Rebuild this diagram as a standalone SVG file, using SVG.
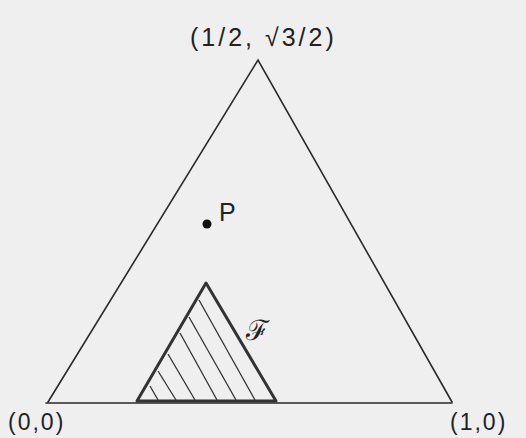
<svg xmlns="http://www.w3.org/2000/svg" width="526" height="438" viewBox="0 0 526 438">
<style>
.bg{fill:#efefef}
.ln{fill:none;stroke:#2a2a2a;stroke-width:1.6;stroke-linecap:round}
.thick{fill:none;stroke:#333;stroke-width:3;stroke-linejoin:round}
.hatch{stroke:#333;stroke-width:1.3}
.lbl{font-family:"Liberation Sans",Arial,sans-serif;font-size:23px;fill:#222}
</style>
<rect class="bg" x="0" y="0" width="526" height="438"/>
<g id="big-triangle">
<polyline class="ln" points="48,402 258,60 452,402"/>
</g>
<g id="connectors">
<line class="ln" x1="46" y1="403" x2="452" y2="403"/>
</g>
<g id="small-triangle-F">
<polygon class="thick" points="137,401 206,283 276,401"/>
<g class="hatch">
<line x1="199" y1="300" x2="255" y2="400"/>
<line x1="189" y1="317" x2="236" y2="400"/>
<line x1="180" y1="333" x2="217" y2="400"/>
<line x1="168" y1="354" x2="195" y2="400"/>
<line x1="158" y1="371" x2="176" y2="400"/>
<line x1="150" y1="386" x2="158" y2="400"/>
</g>
<text x="246" y="340" style="font-family:'DejaVu Serif',serif;font-size:28px;fill:#222">ℱ</text>
</g>
<g id="point-P">
<circle cx="207" cy="224" r="4.5" fill="#111"/>
<text class="lbl" x="219" y="221" style="font-size:25px">P</text>
</g>
<g id="labels">
<text class="lbl" x="190" y="46" style="font-size:25px;letter-spacing:3px">(1/2, √3/2)</text>
<text class="lbl" x="8" y="430" style="letter-spacing:2px">(0,0)</text>
<text class="lbl" x="450" y="430" style="letter-spacing:2px">(1,0)</text>
</g>
</svg>
